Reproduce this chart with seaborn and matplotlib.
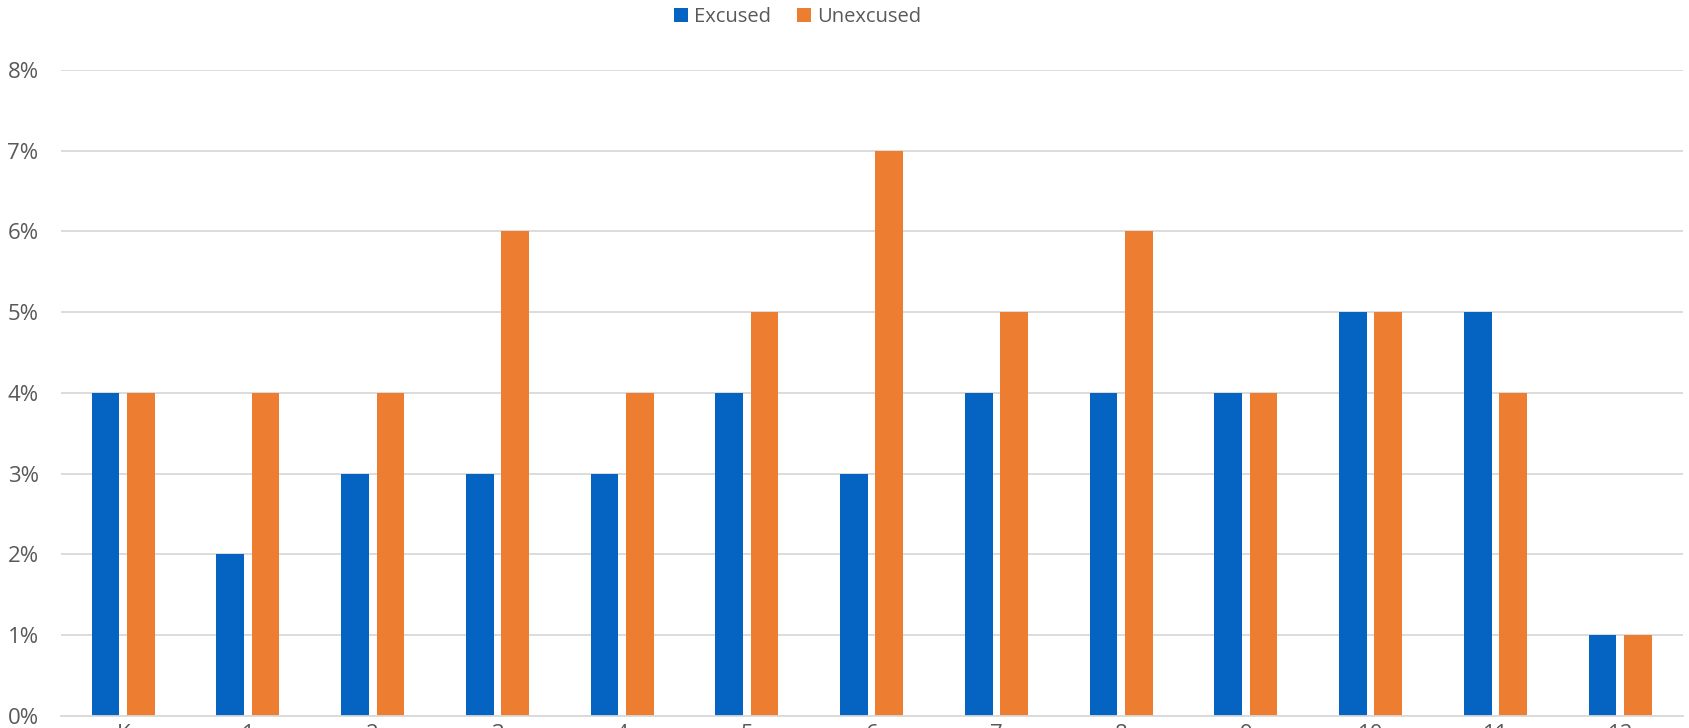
import matplotlib
matplotlib.use("Agg")
import matplotlib.pyplot as plt
import seaborn as sns
import pandas as pd
from matplotlib.ticker import FixedLocator, FuncFormatter

grades = ["K", "1", "2", "3", "4", "5", "6", "7", "8", "9", "10", "11", "12"]
excused = [4, 2, 3, 3, 3, 4, 3, 4, 4, 4, 5, 5, 1]
unexcused = [4, 4, 4, 6, 4, 5, 7, 5, 6, 4, 5, 4, 1]
series = ["Excused", "Unexcused"]
colors = ["#0563C1", "#ED7D31"]

df = pd.DataFrame({
    "grade": pd.Categorical(grades * 2, categories=grades, ordered=True),
    "pct": excused + unexcused,
    "type": [series[0]] * len(grades) + [series[1]] * len(grades),
})

sns.set_theme(style="white")
plt.rcParams["font.family"] = ["Open Sans", "DejaVu Sans"]

fig = plt.figure(figsize=(16.9, 7.28), dpi=100)
ax = fig.add_axes([0.036, 0.0165, 0.9596, 0.8875])

sns.barplot(data=df, x="grade", y="pct", hue="type", order=grades,
            hue_order=series, palette=colors, width=0.566, gap=0.215,
            saturation=1, linewidth=0, ax=ax, legend=True)

ax.set_ylim(0, 8)
ax.set_xlim(-0.5, len(grades) - 0.5)
ax.yaxis.set_major_locator(FixedLocator(range(0, 9)))
ax.yaxis.set_major_formatter(FuncFormatter(lambda v, p: f"{int(v)}%"))
ax.grid(axis="y", color="#D9D9D9", linewidth=1.3)
ax.set_axisbelow(True)
for s in ["top", "right", "left"]:
    ax.spines[s].set_visible(False)
ax.spines["bottom"].set_color("#D9D9D9")
ax.spines["bottom"].set_linewidth(1.3)
ax.set_xlabel("")
ax.set_ylabel("")

ax.tick_params(axis="y", length=0, labelsize=16, labelcolor="#595959", pad=16)
ax.set_xticks(range(len(grades)))
ax.set_xticklabels(grades)
ax.set_xticks([i - 0.5 for i in range(len(grades) + 1)], minor=True)
ax.tick_params(axis="x", which="major", length=0, labelsize=16,
               labelcolor="#595959", pad=6)
ax.tick_params(axis="x", which="minor", length=14, width=1.3,
               color="#D9D9D9", direction="out")

handles, labels = ax.get_legend_handles_labels()
ax.legend_.remove()
fig.legend(handles, labels, loc="center", bbox_to_anchor=(0.472, 0.977),
           ncol=2, frameon=False, fontsize=14.5, labelcolor="#595959",
           handlelength=0.7, handleheight=0.7, handletextpad=0.3,
           columnspacing=1.3)

fig.savefig("out.png", dpi=100)
